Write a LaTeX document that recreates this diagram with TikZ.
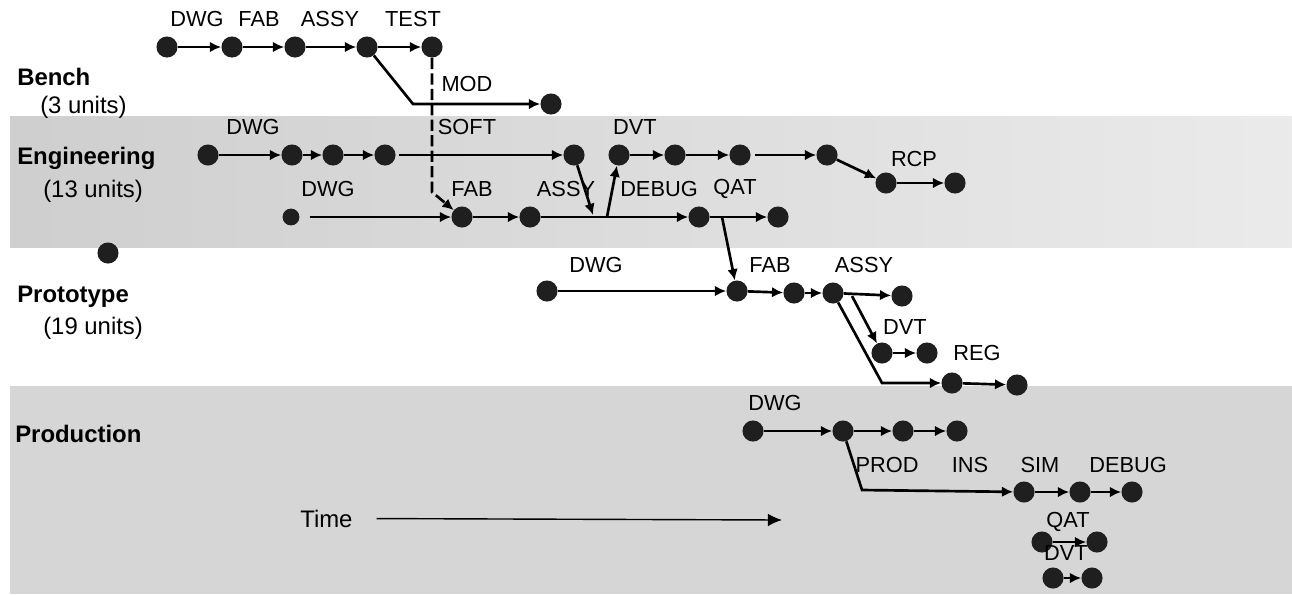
\documentclass[tikz,border=0pt]{standalone}
\usepackage{fontspec}
\setmainfont{Liberation Sans}
\usetikzlibrary{arrows.meta}
\tikzset{
  dot/.style={circle,fill=black!88,inner sep=0pt,minimum size=15pt},
  arr/.style={-{Latex[length=8pt,width=7.5pt]},line width=1.9pt},
  ln/.style={line width=1.9pt},
  dsh/.style={-{Latex[length=8pt,width=7.5pt]},line width=1.9pt,dash pattern=on 8pt off 3pt},
  tarr/.style={-{Latex[length=10pt,width=9pt]},line width=1pt},
  lab/.style={font=\fontsize{15.5}{18}\selectfont,inner sep=0pt},
  ttl/.style={font=\fontsize{17}{20}\selectfont\bfseries,anchor=base west,inner sep=0pt},
  sub/.style={font=\fontsize{17}{20}\selectfont,anchor=base west,inner sep=0pt}
}
\begin{document}
\begin{tikzpicture}[x=0.025cm,y=-0.025cm]
\useasboundingbox (0,0) rectangle (1292,594);
\shade[left color=black!19,right color=black!8] (10,116) rectangle (1292,247);
\fill[black!16] (10,386) rectangle (1292,594);

\node[ttl] (tb) at (17,85) {Bench};
\node[sub] (ub) at (40,113) {(3 units)};
\node[ttl] (te) at (17,164) {Engineering};
\node[sub] (ue) at (43,197) {(13 units)};
\node[ttl] (tp) at (17,302) {Prototype};
\node[sub] (up) at (43,334) {(19 units)};
\node[ttl] (tr) at (15,442) {Production};
\node[sub] (tm) at (300,527) {Time};

\node[dot] (b0) at (167,47) {};
\node[dot] (b1) at (232,47) {};
\node[dot] (b2) at (295,47) {};
\node[dot] (b3) at (367,47) {};
\node[dot] (b4) at (432,47) {};
\node[dot] (bm) at (551,104) {};
\coordinate (bc) at (413,104);
\coordinate (dc) at (432,192);

\node[dot] (e0) at (208,155) {};
\node[dot] (e1) at (292,155) {};
\node[dot] (e2) at (333,155) {};
\node[dot] (e3) at (385,155) {};
\node[dot] (e4) at (574,155) {};
\node[dot] (e5) at (619,155) {};
\node[dot] (e6) at (675,155) {};
\node[dot] (e7) at (740,155) {};
\node[dot] (e8) at (827,155) {};
\node[dot] (e9) at (886,183) {};
\node[dot] (e10) at (955,183) {};

\node[dot,minimum size=12pt] (f0) at (291,217) {};
\node[dot] (f1) at (462,217) {};
\node[dot] (f2) at (530,217) {};
\node[dot] (f3) at (699,217) {};
\node[dot] (f4) at (778,217) {};
\coordinate (ca) at (593,215);
\coordinate (cb) at (607,217);
\coordinate (cc) at (722,217);

\node[dot] (x0) at (108,253) {};

\node[dot] (p0) at (547,291) {};
\node[dot] (p1) at (737,291) {};
\node[dot] (p2) at (794,293) {};
\node[dot] (p3) at (833,293) {};
\node[dot] (p4) at (902,296) {};
\coordinate (pd) at (852,296);
\node[dot] (q0) at (882,353) {};
\node[dot] (q1) at (927,353) {};
\coordinate (sc) at (882,383);
\node[dot] (s0) at (952,383) {};
\node[dot] (s1) at (1017,385) {};

\node[dot] (r0) at (753,431) {};
\node[dot] (r1) at (843,431) {};
\node[dot] (r2) at (903,431) {};
\node[dot] (r3) at (957,431) {};
\coordinate (rc) at (862,490);
\node[dot] (t0) at (1024,492) {};
\node[dot] (t1) at (1080,492) {};
\node[dot] (t2) at (1132,492) {};
\node[dot] (u0) at (1042,542) {};
\node[dot] (u1) at (1097,542) {};
\node[dot] (v0) at (1053,578) {};
\node[dot] (v1) at (1092,578) {};
\coordinate (tm1) at (782,520);

\node[lab] at (197,19) {DWG};
\node[lab] at (259,19) {FAB};
\node[lab] at (330,19) {ASSY};
\node[lab] at (413,19) {TEST};
\node[lab] at (467,84) {MOD};
\node[lab] at (253,127) {DWG};
\node[lab] at (467,127) {SOFT};
\node[lab] at (635,127) {DVT};
\node[lab] at (914,159) {RCP};
\node[lab] at (328,189) {DWG};
\node[lab] at (472,189) {FAB};
\node[lab] at (566,189) {ASSY};
\node[lab] at (659,189) {DEBUG};
\node[lab] at (735,189) {QAT};
\node[lab] at (596,265) {DWG};
\node[lab] at (770,265) {FAB};
\node[lab] at (864,265) {ASSY};
\node[lab] at (905,327) {DVT};
\node[lab] at (977,353) {REG};
\node[lab] at (775,403) {DWG};
\node[lab] at (887,465) {PROD};
\node[lab] at (970,465) {INS};
\node[lab] at (1040,465) {SIM};
\node[lab] at (1128,465) {DEBUG};
\node[lab] at (1068,522) {QAT};
\node[lab] at (1066,553) {DVT};

\draw[arr] (b0) -- (b1);
\draw[arr] (b1) -- (b2);
\draw[arr] (b2) -- (b3);
\draw[arr] (b3) -- (b4);
\draw[arr] (b3) -- (bc) -- (bm);

\draw[arr] (e0) -- (e1);
\draw[arr] (e1) -- (e2);
\draw[arr] (e2) -- (e3);
\draw[arr,shorten <=2pt] (e3) -- (e4);
\draw[arr] (e5) -- (e6);
\draw[arr] (e6) -- (e7);
\draw[arr,shorten <=3pt] (e7) -- (e8);
\draw[arr] (e8) -- (e9);
\draw[arr] (e9) -- (e10);

\draw[arr,shorten <=7pt] (f0) -- (f1);
\draw[arr] (f1) -- (f2);
\draw[arr] (f2) -- (f3);
\draw[arr] (f3) -- (f4);
\draw[arr] (e4) -- (ca);
\draw[arr] (cb) -- (e5);
\draw[arr] (cc) -- (p1);

\draw[dsh] (b4) -- (dc) -- (f1);

\draw[arr] (p0) -- (p1);
\draw[arr] (p1) -- (p2);
\draw[arr] (p2) -- (p3);
\draw[arr] (p3) -- (p4);
\draw[arr] (pd) -- (q0);
\draw[arr] (q0) -- (q1);
\draw[arr] (p3) -- (sc) -- (s0);
\draw[arr] (s0) -- (s1);

\draw[arr] (r0) -- (r1);
\draw[arr] (r1) -- (r2);
\draw[arr] (r2) -- (r3);
\draw[arr] (r1) -- (rc) -- (t0);
\draw[arr] (t0) -- (t1);
\draw[arr] (t1) -- (t2);
\draw[arr] (u0) -- (u1);
\draw[arr] (v0) -- (v1);

\draw[tarr,shorten <=17pt] (tm.east) -- (tm1);
\end{tikzpicture}
\end{document}
